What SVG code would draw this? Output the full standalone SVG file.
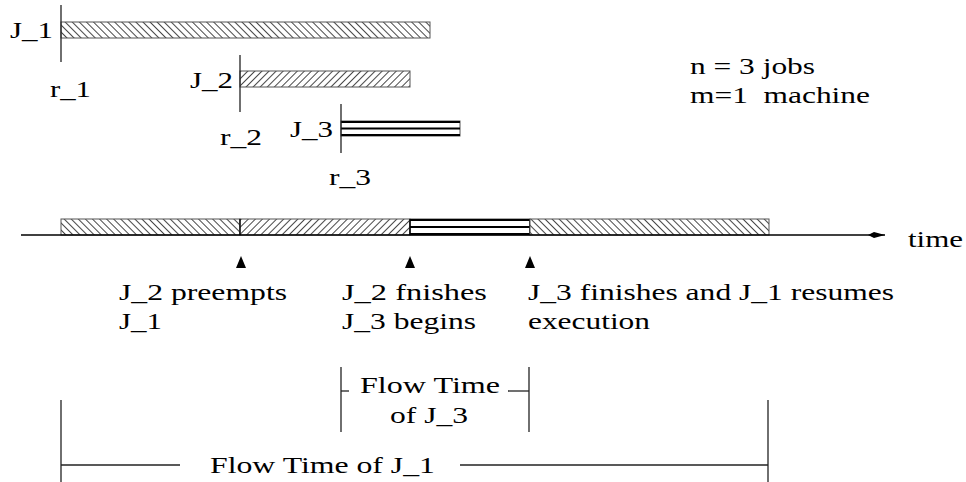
<svg xmlns="http://www.w3.org/2000/svg" width="966" height="482" viewBox="0 0 966 482">
  <defs>
    <!-- back-slash hatch for J_1 -->
    <pattern id="hatchBack" patternUnits="userSpaceOnUse" width="5" height="10" patternTransform="rotate(-45)">
      <rect width="5" height="10" fill="#fff"/>
      <line x1="0.5" y1="0" x2="0.5" y2="10" stroke="#333" stroke-width="0.9"/>
    </pattern>
    <!-- forward-slash hatch for J_2 -->
    <pattern id="hatchFwd" patternUnits="userSpaceOnUse" width="5" height="10" patternTransform="rotate(45)">
      <rect width="5" height="10" fill="#fff"/>
      <line x1="0.5" y1="0" x2="0.5" y2="10" stroke="#333" stroke-width="0.9"/>
    </pattern>
    <marker id="timeArrow" markerWidth="18" markerHeight="8" refX="17" refY="4" orient="auto" markerUnits="userSpaceOnUse">
      <path d="M0,4 L6,1 L17,4 L6,7 Z" fill="#000"/>
    </marker>
  </defs>
  <style>
    text { font-family: "Liberation Serif", "Times New Roman", serif; font-size: 24px; fill: #000; }
    .tick { stroke: #222; stroke-width: 1.3; fill: none; }
    .bar { stroke: #555; stroke-width: 1; }
    .stripe { stroke: #000; stroke-width: 2; }
    .mark { fill: #000; }
    .axis { stroke: #000; stroke-width: 1.3; fill: none; }
  </style>
  <rect width="966" height="482" fill="#fff"/>

  <!-- job J_1 -->
  <g id="job1">
    <rect class="bar" x="61" y="22" width="369" height="16" fill="url(#hatchBack)"/>
    <line class="tick" x1="61" y1="5" x2="61" y2="62"/>
    <text x="10" y="38" textLength="43" lengthAdjust="spacingAndGlyphs">J_1</text>
    <text x="50" y="97" textLength="41" lengthAdjust="spacingAndGlyphs">r_1</text>
  </g>

  <!-- job J_2 -->
  <g id="job2">
    <rect class="bar" x="240" y="71" width="170" height="16" fill="url(#hatchFwd)"/>
    <line class="tick" x1="240" y1="55" x2="240" y2="112"/>
    <text x="190" y="88" textLength="43" lengthAdjust="spacingAndGlyphs">J_2</text>
    <text x="220" y="145" textLength="42" lengthAdjust="spacingAndGlyphs">r_2</text>
  </g>

  <!-- job J_3 -->
  <g id="job3">
    <rect class="bar" x="341" y="121" width="119" height="15" fill="#fff"/>
    <line class="stripe" x1="341" y1="122" x2="460" y2="122"/>
    <line class="stripe" x1="341" y1="128.5" x2="460" y2="128.5"/>
    <line class="stripe" x1="341" y1="135" x2="460" y2="135"/>
    <line class="tick" x1="341" y1="104" x2="341" y2="153"/>
    <text x="290" y="137" textLength="43" lengthAdjust="spacingAndGlyphs">J_3</text>
    <text x="329" y="185" textLength="42" lengthAdjust="spacingAndGlyphs">r_3</text>
  </g>

  <!-- problem size -->
  <g id="legend">
    <text x="690" y="74" textLength="125" lengthAdjust="spacingAndGlyphs">n = 3 jobs</text>
    <text x="690" y="103" textLength="180" lengthAdjust="spacingAndGlyphs" xml:space="preserve">m=1  machine</text>
  </g>

  <!-- schedule on the machine -->
  <g id="schedule">
    <rect class="bar" x="61" y="219" width="179" height="16" fill="url(#hatchBack)"/>
    <rect class="bar" x="240" y="219" width="170" height="16" fill="url(#hatchFwd)"/>
    <rect class="bar" x="410" y="219" width="120" height="16" fill="#fff"/>
    <line class="stripe" x1="410" y1="220" x2="530" y2="220"/>
    <line class="stripe" x1="410" y1="227" x2="530" y2="227"/>
    <line class="stripe" x1="410" y1="234" x2="530" y2="234"/>
    <line x1="410" y1="219" x2="410" y2="235" stroke="#000" stroke-width="1.5"/>
    <line x1="530" y1="219" x2="530" y2="235" stroke="#000" stroke-width="1.5"/>
    <line x1="240" y1="219" x2="240" y2="235" stroke="#000" stroke-width="1.3"/>
    <rect class="bar" x="530" y="219" width="239" height="16" fill="url(#hatchBack)"/>
  </g>

  <!-- time axis and event markers -->
  <g id="connectors">
    <line class="axis" x1="21" y1="235" x2="885" y2="235" marker-end="url(#timeArrow)"/>
    <path class="mark" d="M241,256 L246,268 L236,268 Z"/>
    <path class="mark" d="M410,256 L415,268 L405,268 Z"/>
    <path class="mark" d="M530,256 L535,268 L525,268 Z"/>
  </g>
  <text x="908" y="247" textLength="55" lengthAdjust="spacingAndGlyphs">time</text>

  <!-- event captions -->
  <g id="event1">
    <text x="119" y="300" textLength="168" lengthAdjust="spacingAndGlyphs">J_2 preempts</text>
    <text x="119" y="329" textLength="43" lengthAdjust="spacingAndGlyphs">J_1</text>
  </g>
  <g id="event2">
    <text x="342" y="300" textLength="145" lengthAdjust="spacingAndGlyphs">J_2 fnishes</text>
    <text x="342" y="329" textLength="134" lengthAdjust="spacingAndGlyphs">J_3 begins</text>
  </g>
  <g id="event3">
    <text x="528" y="300" textLength="366" lengthAdjust="spacingAndGlyphs">J_3 finishes and J_1 resumes</text>
    <text x="528" y="329" textLength="122" lengthAdjust="spacingAndGlyphs">execution</text>
  </g>

  <!-- flow time of J_3 -->
  <g id="flow3">
    <line class="tick" x1="341" y1="367" x2="341" y2="432"/>
    <line class="tick" x1="529" y1="367" x2="529" y2="432"/>
    <line class="tick" x1="341" y1="391" x2="349" y2="391"/>
    <line class="tick" x1="508" y1="391" x2="529" y2="391"/>
    <text x="360" y="393" textLength="140" lengthAdjust="spacingAndGlyphs">Flow Time</text>
    <text x="390" y="423" textLength="78" lengthAdjust="spacingAndGlyphs">of J_3</text>
  </g>

  <!-- flow time of J_1 -->
  <g id="flow1">
    <line class="tick" x1="61" y1="400" x2="61" y2="482"/>
    <line class="tick" x1="768" y1="400" x2="768" y2="482"/>
    <line class="tick" x1="61" y1="465" x2="180" y2="465"/>
    <line class="tick" x1="460" y1="465" x2="768" y2="465"/>
    <text x="210" y="473" textLength="225" lengthAdjust="spacingAndGlyphs">Flow Time of J_1</text>
  </g>
</svg>
